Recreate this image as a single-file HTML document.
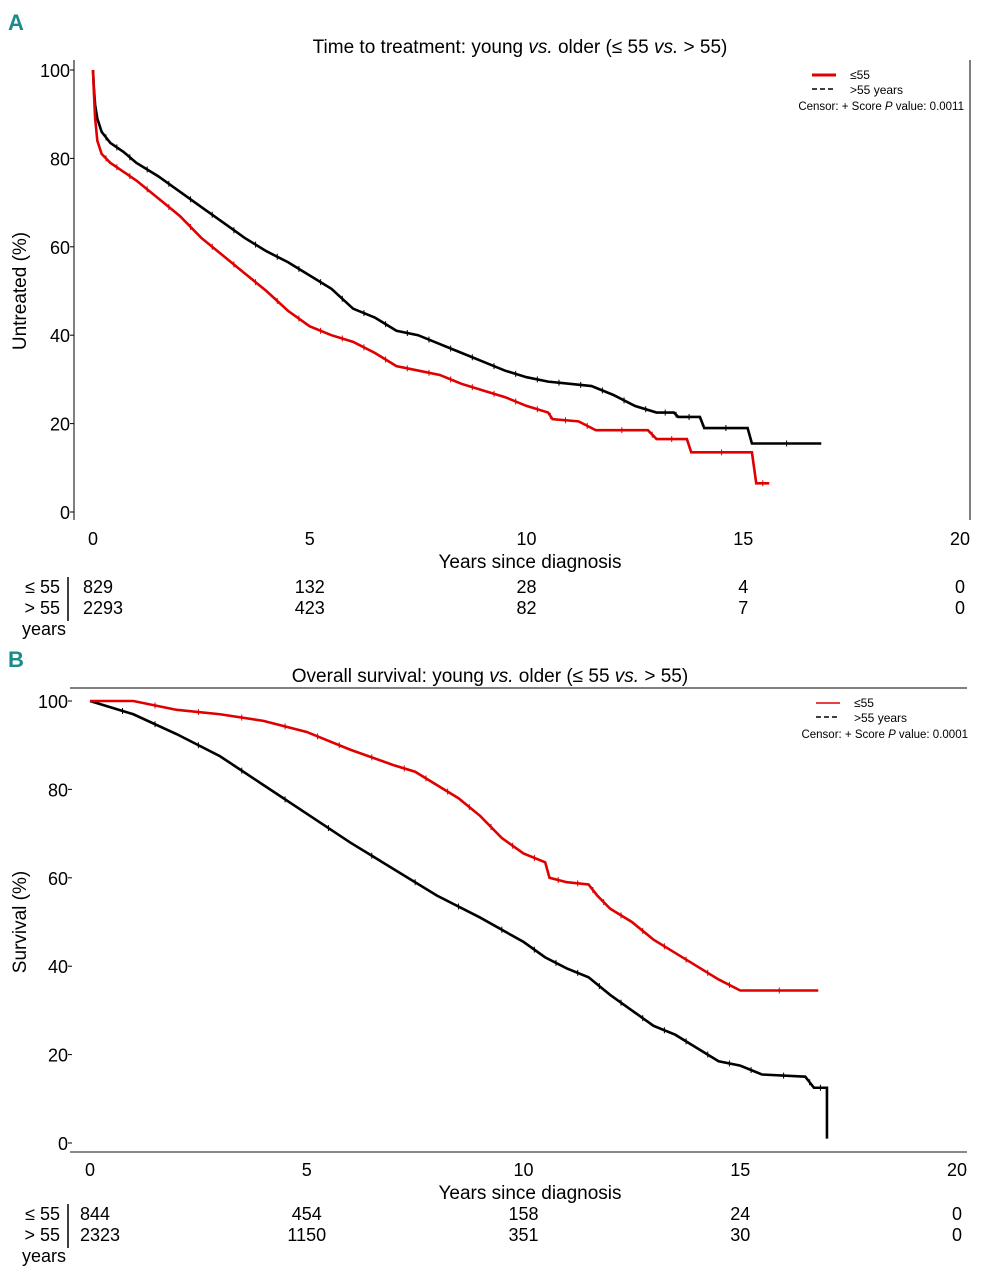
<!DOCTYPE html>
<html><head><meta charset="utf-8">
<style>
body{margin:0;background:#fff;}
svg{display:block;font-family:"Liberation Sans Narrow","Liberation Sans",sans-serif;}
</style></head>
<body>
<svg id="fig" width="985" height="1280" viewBox="0 0 985 1280" xmlns="http://www.w3.org/2000/svg">
<text x="8" y="30" font-size="22" font-weight="bold" fill="#1a8a8a">A</text>
<text x="520" y="53" font-size="19" text-anchor="middle">Time to treatment: young <tspan font-style="italic">vs.</tspan> older (≤ 55 <tspan font-style="italic">vs.</tspan> &gt; 55)</text>
<text x="8" y="667" font-size="22" font-weight="bold" fill="#1a8a8a">B</text>
<text x="490" y="682" font-size="19" text-anchor="middle">Overall survival: young <tspan font-style="italic">vs.</tspan> older (≤ 55 <tspan font-style="italic">vs.</tspan> &gt; 55)</text>
<g id="pa"></g>
<g id="pb"></g>
</svg>
<script>
const xTicks=[0,5,10,15,20];
const yTicks=[0,20,40,60,80,100];
const aYoungT=[0,0.02,0.05,0.1,0.2,0.4,0.7,1,1.5,2,2.5,3,3.5,4,4.5,5,5.5,6,6.5,7,7.5,8,8.5,9,9.5,10,10.5,10.6,11.2,11.6,12.8,13,13.7,13.8,15.2,15.3,15.6];
const aYoungS=[100,95,89,84,81,79,77,75,71,67,62,58,54,50,45.5,42,40,38.5,36,33,32,31,29,27.5,26,24,22.5,21,20.5,18.5,18.5,16.5,16.5,13.5,13.5,6.5,6.5];
const aOlderT=[0,0.02,0.05,0.1,0.2,0.4,0.7,1,1.5,2,2.5,3,3.5,4,4.5,5,5.5,6,6.5,7,7.5,8,8.5,9,9.5,10,10.5,11,11.5,12,12.5,13,13.4,13.5,14,14.1,15.1,15.2,16.8];
const aOlderS=[100,96,92,89,86,83.5,81.5,79,76,72.5,69,65.5,62,59,56.5,53.5,50.5,46,44,41,40,38,36,34,32,30.5,29.5,29,28.5,26.5,24,22.5,22.5,21.5,21.5,19,19,15.5,15.5];
const bYoungT=[0,1,2,3,4,5,5.5,6,7,7.5,8,8.5,9,9.5,10,10.5,10.6,11,11.5,11.7,12,12.5,13,13.5,14,14.5,15,16.8];
const bYoungS=[100,100,98,97,95.5,93,91,89,85.5,84,81,78,74,69,65.5,63.5,60,59,58.5,56,53,50,46,43,40,37,34.5,34.5];
const bOlderT=[0,0.5,1,2,3,4,5,6,7,8,9,10,10.5,11,11.5,12,12.5,13,13.5,14,14.5,15,15.5,16.5,16.7,17,17];
const bOlderS=[100,98.5,97,92.5,87.5,81,74.5,68,62,56,51,45.5,42,39.5,37.5,33.5,30,26.5,24.5,21.5,18.5,17.5,15.5,15,12.5,12.5,1];
const aRiskYoung=["829","132","28","4","0"];
const aRiskOlder=["2293","423","82","7","0"];
const bRiskYoung=["844","454","158","24","0"];
const bRiskOlder=["2323","1150","351","30","0"];
const NS="http://www.w3.org/2000/svg";
function mk(p,tag,at,txt){const e=document.createElementNS(NS,tag);for(const k in at)e.setAttribute(k,at[k]);if(txt!==undefined)e.textContent=txt;p.appendChild(e);return e;}
function panel(g,cfg){
  const sx=t=>cfg.x0+t*(cfg.x20-cfg.x0)/20;
  const sy=v=>cfg.y0+v*(cfg.y100-cfg.y0)/100;
  if(cfg.left){const l=mk(g,'line',{x1:74,y1:cfg.y100-10,x2:74,y2:cfg.y0+8,stroke:'#000','stroke-width':1});
  }
  if(cfg.right){const l=mk(g,'line',{x1:970,y1:cfg.y100-10,x2:970,y2:cfg.y0+8,stroke:'#000','stroke-width':1});
  }
  if(cfg.top){const l=mk(g,'line',{x1:70,y1:688,x2:967,y2:688,stroke:'#000','stroke-width':1});
  
  const b=mk(g,'line',{x1:70,y1:1152,x2:967,y2:1152,stroke:'#444','stroke-width':1.2});
  }
  yTicks.forEach(v=>{
    const t=mk(g,'text',{x:cfg.ylx,y:sy(v)+7,'font-size':18,'text-anchor':'end'},String(v));
    
    const k=mk(g,'line',{x1:cfg.ylx,y1:sy(v),x2:cfg.ylx+4,y2:sy(v),stroke:'#000'});
    
  });
  xTicks.forEach(v=>{
    const t=mk(g,'text',{x:sx(v),y:cfg.xly,'font-size':18,'text-anchor':'middle'},String(v));
    
  });
  const xt=mk(g,'text',{x:530,y:cfg.xly+23,'font-size':19,'text-anchor':'middle'},'Years since diagnosis');
  
  const cy=(sy(0)+sy(100))/2;
  const yt=mk(g,'text',{x:26,y:cy,'font-size':19,'text-anchor':'middle',transform:`rotate(-90 26 ${cy})`},cfg.ylab);
  
  function series(T,S,col,dash,name){
    let d=`M${sx(T[0])},${sy(S[0])}`;
    for(let i=1;i<T.length;i++){d+=` L${sx(T[i])},${sy(S[i])}`;}
    const p=mk(g,'path',{d,fill:'none',stroke:col,'stroke-width':2.6,'stroke-dasharray':dash});
    
    for(let i=1;i<T.length-1;i++){
      const mx=(sx(T[i])+sx(T[i+1]))/2,my=(sy(S[i])+sy(S[i+1]))/2;
      const c=mk(g,'path',{d:`M${mx},${my-3}V${my+3}`,stroke:col,'stroke-width':1});
      
    }
  }
  series(cfg.oT,cfg.oS,'#000',cfg.dashO,'older-curve');
  series(cfg.yT,cfg.yS,'#e00000','none','young-curve');
  const lg=mk(g,'g',{});
  const ly=cfg.legY;
  const l1=mk(lg,'line',{x1:cfg.legX,y1:ly,x2:cfg.legX+24,y2:ly,stroke:'#e00000','stroke-width':cfg.legW});
  
  const t1=mk(lg,'text',{x:cfg.legX+38,y:ly+4,'font-size':12},'≤55');
  
  const l2=mk(lg,'line',{x1:cfg.legX,y1:ly+14,x2:cfg.legX+24,y2:ly+14,stroke:'#000','stroke-width':1.6,'stroke-dasharray':'5,3'});
  
  const t2=mk(lg,'text',{x:cfg.legX+38,y:ly+19,'font-size':12},'>55 years');
  
  const t3=mk(lg,'text',{x:cfg.legX+152,y:ly+35,'font-size':11.5,'text-anchor':'end'});
  t3.innerHTML='Censor: +  Score <tspan font-style="italic">P</tspan> value: '+cfg.p;
  
  const ry=cfg.riskY;
  [['≤ 55',cfg.rY],['> 55',cfg.rO]].forEach((r,j)=>{
    const lb=mk(g,'text',{x:60,y:ry+j*21,'font-size':18,'text-anchor':'end'},r[0]);
    
    r[1].forEach((v,i)=>{
      const t=mk(g,'text',{x:i===0?cfg.x0-10:sx(xTicks[i]),y:ry+j*21,'font-size':18,'text-anchor':i===0?'start':'middle'},v);
      
    });
  });
  const yr=mk(g,'text',{x:44,y:ry+42,'font-size':18,'text-anchor':'middle'},'years');
  
  const bar=mk(g,'line',{x1:68,y1:ry-16,x2:68,y2:ry+28,stroke:'#000','stroke-width':1.5});
  
}
panel(document.getElementById('pa'),{x0:93,x20:960,y0:512,y100:70,ylx:70,xly:545,ylab:'Untreated (%)',
  left:true,right:true,top:false,yT:aYoungT,yS:aYoungS,oT:aOlderT,oS:aOlderS,dashO:'none',
  legX:812,legY:75,legW:3,p:'0.0011',riskY:593,rY:aRiskYoung,rO:aRiskOlder});
panel(document.getElementById('pb'),{x0:90,x20:957,y0:1143,y100:701,ylx:68,xly:1176,ylab:'Survival (%)',
  left:false,right:false,top:true,yT:bYoungT,yS:bYoungS,oT:bOlderT,oS:bOlderS,dashO:'none',
  legX:816,legY:703,legW:1.6,p:'0.0001',riskY:1220,rY:bRiskYoung,rO:bRiskOlder});
</script>
</body></html>
